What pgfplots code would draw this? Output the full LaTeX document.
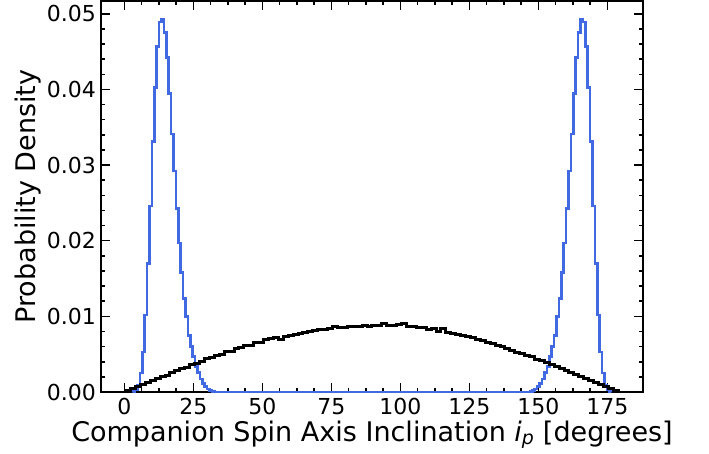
\documentclass[border=0pt]{standalone}
\usepackage{fontspec}
\setmainfont{DejaVu Sans}
\usepackage{pgfplots}
\pgfplotsset{compat=1.18}
\definecolor{royalblue}{HTML}{4169E1}
\begin{document}
\begin{tikzpicture}
\useasboundingbox (-101pt,-61pt) rectangle (608pt,392pt);
\begin{axis}[
  at={(0pt,0pt)}, anchor=south west,
  scale only axis, width=542pt, height=391pt,
  xmin=-8.5, xmax=187.9, ymin=0, ymax=0.0517,
  xtick={0,25,50,75,100,125,150,175},
  ytick={0,0.01,0.02,0.03,0.04,0.05},
  minor x tick num=3, minor y tick num=4,
  tick align=inside, xtick pos=both, ytick pos=both,
  major tick length=9pt, minor tick length=4.5pt,
  tick style={black, line width=1.5pt},
  axis line style={line width=1.6pt},
  scaled y ticks=false,
  /pgf/number format/assume math mode=true,
  y tick label style={/pgf/number format/fixed, /pgf/number format/fixed zerofill, /pgf/number format/precision=2, inner sep=0pt, xshift=-5pt},
  x tick label style={inner sep=0pt, yshift=-6pt},
  tick label style={font=\fontsize{22}{26}\selectfont},
  label style={font=\fontsize{27}{31}\selectfont},
  xlabel={Companion Spin Axis Inclination \textit{i}\textsubscript{\textit{p}} [degrees]},
  ylabel={Probability Density},
  xlabel style={at={([yshift=-49pt]axis description cs:0.5,0)}, anchor=base, inner sep=0pt},
  ylabel style={at={([xshift=-65pt]axis description cs:0,0.5)}, anchor=base, inner sep=0pt},
]
\addplot[royalblue, line width=2.6pt, const plot mark left] table {
x y
2.95 0
2.95 0.0001
3.82 0.0003
4.69 0.0009
5.56 0.0025
6.43 0.0053
7.30 0.0102
8.17 0.0170
9.04 0.0246
9.91 0.0331
10.78 0.0403
11.66 0.0457
12.53 0.0489
13.40 0.0493
14.27 0.0475
15.14 0.0442
16.01 0.0395
16.88 0.0341
17.75 0.0292
18.62 0.0243
19.49 0.0197
20.36 0.0158
21.23 0.0124
22.10 0.0100
22.97 0.0075
23.84 0.0060
24.71 0.0047
25.58 0.0034
26.45 0.0026
27.32 0.0017
28.19 0.0011
29.07 0.0007
29.94 0.0004
30.81 0.0002
31.68 0.0001
32.55 0
146.95 0.0001
147.82 0.0002
148.69 0.0004
149.56 0.0007
150.43 0.0011
151.31 0.0017
152.18 0.0026
153.05 0.0034
153.92 0.0047
154.79 0.0060
155.66 0.0075
156.53 0.0100
157.40 0.0124
158.27 0.0158
159.14 0.0197
160.01 0.0243
160.88 0.0292
161.75 0.0341
162.62 0.0395
163.49 0.0442
164.36 0.0475
165.23 0.0493
166.10 0.0489
166.97 0.0457
167.84 0.0403
168.72 0.0331
169.59 0.0246
170.46 0.0170
171.33 0.0102
172.20 0.0053
173.07 0.0025
173.94 0.0009
174.81 0.0003
175.68 0.0001
176.55 0
};
\addplot[black, line width=3pt, const plot mark left] table {
x y
0.43 0
0.43 0.00015
2.22 0.00040
4.00 0.00070
5.79 0.00095
7.57 0.00125
9.36 0.00150
11.14 0.00172
12.93 0.00205
14.71 0.00222
16.50 0.00262
18.28 0.00280
20.07 0.00315
21.85 0.00330
23.64 0.00365
25.42 0.00380
27.21 0.00405
28.99 0.00440
30.78 0.00450
32.56 0.00480
34.35 0.00500
36.13 0.00530
37.92 0.00540
39.70 0.00570
41.49 0.00585
43.27 0.00615
45.06 0.00620
46.84 0.00650
48.63 0.00660
50.41 0.00690
52.20 0.00705
53.98 0.00715
55.77 0.00700
57.55 0.00735
59.34 0.00745
61.12 0.00760
62.91 0.00780
64.69 0.00790
66.48 0.00800
68.26 0.00815
70.05 0.00825
71.83 0.00830
73.62 0.00845
75.40 0.00860
77.19 0.00850
78.97 0.00855
80.76 0.00865
82.54 0.00860
84.33 0.00870
86.11 0.00880
87.90 0.00870
89.68 0.00880
91.47 0.00885
93.25 0.00905
95.04 0.00875
96.82 0.00880
98.61 0.00895
100.39 0.00900
102.18 0.00865
103.96 0.00870
105.75 0.00850
107.53 0.00855
109.32 0.00830
111.10 0.00840
112.89 0.00795
114.67 0.00835
116.46 0.00790
118.24 0.00770
120.03 0.00755
121.81 0.00745
123.60 0.00730
125.38 0.00720
127.17 0.00690
128.95 0.00680
130.74 0.00660
132.52 0.00640
134.31 0.00610
136.09 0.00600
137.88 0.00570
139.66 0.00555
141.45 0.00525
143.23 0.00505
145.02 0.00480
146.80 0.00465
148.59 0.00435
150.37 0.00415
152.16 0.00385
153.94 0.00360
155.73 0.00335
157.51 0.00310
159.30 0.00285
161.08 0.00260
162.87 0.00230
164.65 0.00200
166.44 0.00175
168.22 0.00150
170.01 0.00125
171.79 0.00095
173.58 0.00070
175.36 0.00040
177.15 0.00015
178.93 0
};
\end{axis}
\end{tikzpicture}
\end{document}
